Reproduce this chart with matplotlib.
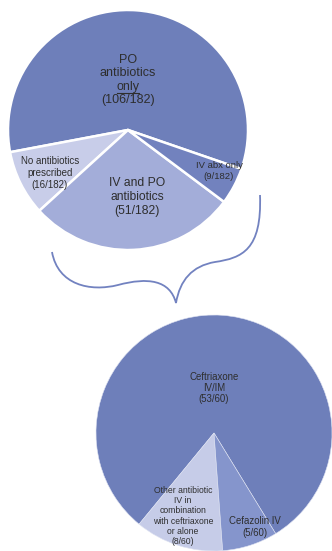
import matplotlib.pyplot as plt
from matplotlib.path import Path
from matplotlib.patches import PathPatch

plt.rcParams["font.family"] = ["Liberation Sans", "DejaVu Sans"]

W, H = 332, 551

# overall treatment split
treat_labels = ["PO only", "No antibiotics", "IV and PO", "IV abx only"]
treat_counts = [106, 16, 51, 9]
treat_colors = ["#6e7fba", "#c8cde9", "#a3add9", "#7282be"]

# IV antibiotic breakdown
iv_labels = ["Ceftriaxone", "Other", "Cefazolin"]
iv_counts = [53, 8, 5]
iv_colors = ["#6e7fba", "#c6cce8", "#8595cc"]

TXT = "#2e2e2e"


def img(x, y):
    # pixel coordinates (origin top-left) -> data coordinates
    return x, H - y


fig = plt.figure(figsize=(W / 100, H / 100), dpi=100)
ax = fig.add_axes([0, 0, 1, 1])

ax.pie(treat_counts, colors=treat_colors, startangle=-19, counterclock=True,
       center=img(128, 130), radius=120,
       wedgeprops=dict(edgecolor="white", linewidth=1.8))
ax.pie(iv_counts, colors=iv_colors, startangle=301.5, counterclock=True,
       center=img(214, 433), radius=118,
       wedgeprops=dict(edgecolor="#dfe3f2", linewidth=0.4))

# curly brace linking the IV slice to the lower chart
verts = [img(52, 252), img(58, 285), img(90, 292), img(118, 285),
         img(148, 277), img(170, 280), img(176, 303),
         img(180, 280), img(192, 266), img(215, 262),
         img(242, 258), img(262, 250), img(260, 195)]
codes = [Path.MOVETO] + [Path.CURVE4] * 12
ax.add_patch(PathPatch(Path(verts, codes), facecolor="none",
                       edgecolor="#7282c0", linewidth=1.3))

# PO-only label, one line at a time so "only" can be underlined
for i, line in enumerate(["PO", "antibiotics", "only", "(106/182)"]):
    ax.text(*img(128, 60 + 13.4 * i), line, ha="center", va="center",
            fontsize=9, color=TXT)
ax.plot([img(117, 93)[0], img(139, 93)[0]], [img(0, 93)[1]] * 2,
        color=TXT, linewidth=0.8)

ax.text(*img(50, 173), "No antibiotics\nprescribed\n(16/182)",
        ha="center", va="center", fontsize=7, color=TXT, linespacing=1.25)
ax.text(*img(137, 197), "IV and PO\nantibiotics\n(51/182)",
        ha="center", va="center", fontsize=8.7, color=TXT, linespacing=1.2)
ax.text(*img(219, 171), "IV abx only\n(9/182)",
        ha="center", va="center", fontsize=6.8, color=TXT, linespacing=1.2)

ax.text(*img(214, 388), "Ceftriaxone\nIV/IM\n(53/60)",
        ha="center", va="center", fontsize=6.9, color=TXT, linespacing=1.15)
ax.text(*img(183, 516), "Other antibiotic\nIV in\ncombination\nwith ceftriaxone\nor alone\n(8/60)",
        ha="center", va="center", fontsize=6.2, color=TXT, linespacing=1.15)
ax.text(*img(255, 527), "Cefazolin IV\n(5/60)",
        ha="center", va="center", fontsize=6.9, color=TXT, linespacing=1.2)

ax.set_xlim(0, W)
ax.set_ylim(0, H)
ax.set_aspect("equal")
ax.axis("off")

fig.savefig("out.png", dpi=100)
